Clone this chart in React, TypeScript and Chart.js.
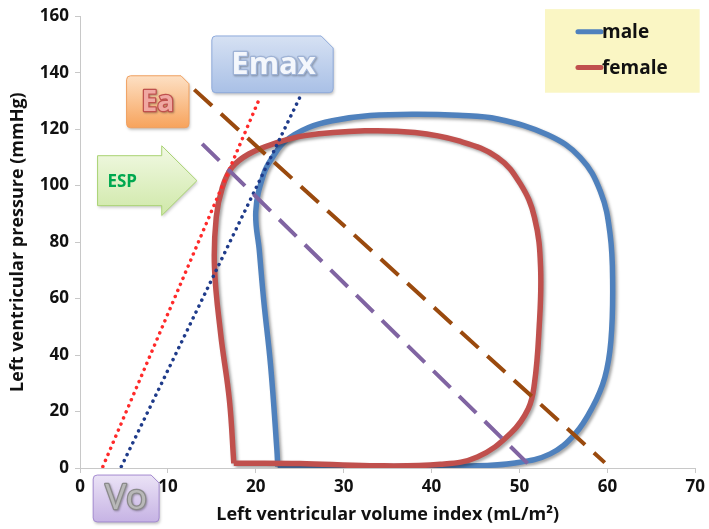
import React, { useEffect, useRef } from "react";
import { Chart, registerables } from "chart.js";

Chart.register(...registerables);

// Male PV loop (volume index mL/m², pressure mmHg)
const maleVolume = [22.5, 22.4, 21.7, 20.9, 20.4, 20.0, 20.9, 21.9, 23.4, 26.0, 28.7, 33.0, 38.1, 43.0, 47.5, 53.2, 56.9, 59.2, 60.3, 60.6, 60.4, 59.7, 58.3, 56.3, 53.5, 49.5, 44.0, 36.0, 28.0, 22.5];
const malePressure = [0.6, 6.4, 35.8, 59.4, 77, 91, 104.1, 110, 115.9, 120.6, 123, 124.8, 125.3, 124.9, 123.6, 118, 110, 98, 83, 65, 45, 32, 21.5, 12, 5, 1.8, 0.7, 0.5, 0.5, 0.6];

// Female PV loop
const femaleVolume = [17.5, 17.0, 16.0, 15.3, 15.5, 16.2, 17.3, 19.2, 21.9, 25.6, 32.4, 38.1, 43.0, 47.5, 50.1, 51.7, 52.4, 52.2, 51.7, 51.0, 49.0, 45.2, 41.0, 33.0, 25.0, 17.5];
const femalePressure = [1.7, 24, 47.6, 71.1, 88.8, 99.4, 106.5, 111.2, 114.7, 117.7, 119.4, 118.8, 115.9, 110, 100.6, 88.8, 71.1, 47.6, 29.9, 21, 12.3, 3.9, 1.3, 0.8, 1.6, 1.7];

// Ea lines (dashed)
const eaMaleVolume = [13.0, 59.7];
const eaMalePressure = [134, 1.9];
const eaFemaleVolume = [13.9, 51.1];
const eaFemalePressure = [114.8, 1.1];

// Emax lines (dotted)
const emaxFemaleVolume = [2.6, 20.4];
const emaxFemalePressure = [0.5, 130.7];
const emaxMaleVolume = [4.7, 25.2];
const emaxMalePressure = [0.5, 132.5];

const xTicks = [0, 10, 20, 30, 40, 50, 60, 70];
const yTicks = [0, 20, 40, 60, 80, 100, 120, 140, 160];
const legendLabels = ["male", "female"];

const pts = (xs: number[], ys: number[]) => xs.map((x, i) => ({ x, y: ys[i] }));

const FONT = "'Open Sans', 'Liberation Sans', sans-serif";

const shadowPlugin = {
  id: "loopShadow",
  beforeDatasetDraw(chart: any, args: any) {
    const ds = chart.data.datasets[args.index];
    if (ds._shadow) {
      const ctx = chart.ctx;
      ctx.save();
      ctx.shadowColor = "rgba(0,0,0,0.35)";
      ctx.shadowBlur = 3;
      ctx.shadowOffsetX = 2;
      ctx.shadowOffsetY = 2;
    }
  },
  afterDatasetDraw(chart: any, args: any) {
    const ds = chart.data.datasets[args.index];
    if (ds._shadow) chart.ctx.restore();
  },
};

function snipRect(ctx: CanvasRenderingContext2D, x0: number, y0: number, x1: number, y1: number, c: number) {
  const r = 4;
  ctx.beginPath();
  ctx.moveTo(x0 + r, y0);
  ctx.lineTo(x1 - c, y0);
  ctx.lineTo(x1, y0 + c);
  ctx.lineTo(x1, y1 - r);
  ctx.quadraticCurveTo(x1, y1, x1 - r, y1);
  ctx.lineTo(x0 + r, y1);
  ctx.quadraticCurveTo(x0, y1, x0, y1 - r);
  ctx.lineTo(x0, y0 + r);
  ctx.quadraticCurveTo(x0, y0, x0 + r, y0);
  ctx.closePath();
}

const annotationPlugin = {
  id: "annotations",
  afterDraw(chart: any) {
    const ctx: CanvasRenderingContext2D = chart.ctx;
    const xs = chart.scales.x;
    const ys = chart.scales.y;
    const px = (v: number) => xs.getPixelForValue(v);
    const py = (v: number) => ys.getPixelForValue(v);

    const box = (x0v: number, x1v: number, y0v: number, y1v: number, c: number, top: string, bottom: string, border: string) => {
      const x0 = px(x0v), x1 = px(x1v), y0 = py(y0v), y1 = py(y1v);
      ctx.save();
      const g = ctx.createLinearGradient(0, y0, 0, y1);
      g.addColorStop(0, top);
      g.addColorStop(1, bottom);
      snipRect(ctx, x0, y0, x1, y1, c);
      ctx.shadowColor = "rgba(0,0,0,0.25)";
      ctx.shadowBlur = 3;
      ctx.shadowOffsetX = 1;
      ctx.shadowOffsetY = 2;
      ctx.fillStyle = g;
      ctx.fill();
      ctx.shadowColor = "transparent";
      ctx.strokeStyle = border;
      ctx.lineWidth = 1;
      ctx.stroke();
      ctx.restore();
      return { cx: (x0 + x1) / 2, cy: (y0 + y1) / 2 };
    };

    const label = (t: string, cx: number, cy: number, size: number, fill: string, stroke: string, weight = "normal") => {
      ctx.save();
      ctx.font = `${weight} ${size}px ${FONT}`;
      ctx.textAlign = "center";
      ctx.textBaseline = "middle";
      ctx.lineJoin = "round";
      ctx.shadowColor = "rgba(0,0,0,0.3)";
      ctx.shadowBlur = 2;
      ctx.shadowOffsetX = 1;
      ctx.shadowOffsetY = 1;
      ctx.strokeStyle = stroke;
      ctx.lineWidth = 2.5;
      ctx.strokeText(t, cx, cy);
      ctx.shadowColor = "transparent";
      ctx.fillStyle = fill;
      ctx.fillText(t, cx, cy);
      ctx.restore();
    };

    // Emax box
    const e = box(15.0, 28.8, 153, 132.9, 12, "#d6e1f3", "#a9c0e6", "#8eaadb");
    label("Emax", e.cx + 1, e.cy + 1, 31, "#f4f7fc", "#9fb3d6", "bold");

    // Ea box
    const a = box(5.3, 12.4, 138.9, 120.5, 8, "#fde0c4", "#f7a35c", "#f0a060");
    label("Ea", a.cx, a.cy + 1, 28, "#f0a8a2", "#c0504d", "bold");

    // ESP arrow
    {
      const x0 = px(2.0), xh = px(9.3), xt = px(13.3);
      const yTop = py(114.1), yBot = py(89.4), sTop = py(110.6), sBot = py(92.9);
      const ym = (yTop + yBot) / 2;
      ctx.save();
      const g = ctx.createLinearGradient(0, yTop, 0, yBot);
      g.addColorStop(0, "#f2f9e4");
      g.addColorStop(1, "#cfe8a8");
      ctx.beginPath();
      ctx.moveTo(x0, sTop);
      ctx.lineTo(xh, sTop);
      ctx.lineTo(xh, yTop);
      ctx.lineTo(xt, ym);
      ctx.lineTo(xh, yBot);
      ctx.lineTo(xh, sBot);
      ctx.lineTo(x0, sBot);
      ctx.closePath();
      ctx.shadowColor = "rgba(0,0,0,0.2)";
      ctx.shadowBlur = 3;
      ctx.shadowOffsetX = 1;
      ctx.shadowOffsetY = 2;
      ctx.fillStyle = g;
      ctx.fill();
      ctx.shadowColor = "transparent";
      ctx.strokeStyle = "#a9d372";
      ctx.lineWidth = 1;
      ctx.stroke();
      ctx.font = `bold 17px ${FONT}`;
      ctx.fillStyle = "#00a84f";
      ctx.textAlign = "center";
      ctx.textBaseline = "middle";
      ctx.fillText("ESP", px(4.8), ym + 1);
      ctx.restore();
    }

    // Vo box
    const v = box(1.5, 9.0, -2.5, -19.1, 8, "#ebe3f6", "#c6b3e4", "#a48bd0");
    label("Vo", v.cx, v.cy + 1, 35, "#b8b8b8", "#8a8a8a");

    // Legend
    {
      const x0 = px(52.9), x1 = px(70.5), y0 = py(162.5), y1 = py(132.9);
      ctx.save();
      ctx.fillStyle = "#faf6c4";
      ctx.fillRect(x0, y0, x1 - x0, y1 - y0);
      const colors = ["#4f81bd", "#c0504d"];
      const rows = [py(154.5), py(141.8)];
      legendLabels.forEach((t, i) => {
        ctx.strokeStyle = colors[i];
        ctx.lineWidth = 5;
        ctx.lineCap = "round";
        ctx.beginPath();
        ctx.moveTo(x0 + 33, rows[i]);
        ctx.lineTo(x0 + 56, rows[i]);
        ctx.stroke();
        ctx.font = `bold 19px ${FONT}`;
        ctx.fillStyle = "#111";
        ctx.textAlign = "left";
        ctx.textBaseline = "middle";
        ctx.fillText(t, x0 + 57, rows[i] + 1);
      });
      ctx.restore();
    }
  },
};

export default function App() {
  const ref = useRef<HTMLCanvasElement | null>(null);

  useEffect(() => {
    if (!ref.current) return;
    const chart = new Chart(ref.current, {
      type: "scatter",
      data: {
        datasets: [
          {
            label: "Ea male",
            data: pts(eaMaleVolume, eaMalePressure),
            showLine: true,
            borderColor: "#9a4a0e",
            borderWidth: 4,
            borderDash: [24, 12],
            pointRadius: 0,
            tension: 0,
          },
          {
            label: "Ea female",
            data: pts(eaFemaleVolume, eaFemalePressure),
            showLine: true,
            borderColor: "#8064a2",
            borderWidth: 4,
            borderDash: [24, 12],
            pointRadius: 0,
            tension: 0,
          },
          {
            label: "Emax female",
            data: pts(emaxFemaleVolume, emaxFemalePressure),
            showLine: true,
            borderColor: "#ff2a2a",
            borderWidth: 3.5,
            borderDash: [0.1, 6.5],
            borderCapStyle: "round",
            pointRadius: 0,
            tension: 0,
          },
          {
            label: "Emax male",
            data: pts(emaxMaleVolume, emaxMalePressure),
            showLine: true,
            borderColor: "#1f3b8a",
            borderWidth: 3.5,
            borderDash: [0.1, 6.5],
            borderCapStyle: "round",
            pointRadius: 0,
            tension: 0,
          },
          {
            label: "female",
            data: pts(femaleVolume, femalePressure),
            showLine: true,
            borderColor: "#c0504d",
            borderWidth: 5.5,
            pointRadius: 0,
            tension: 0.4,
            _shadow: true,
          } as any,
          {
            label: "male",
            data: pts(maleVolume, malePressure),
            showLine: true,
            borderColor: "#4f81bd",
            borderWidth: 5.5,
            pointRadius: 0,
            tension: 0.4,
            _shadow: true,
          } as any,
        ],
      },
      options: {
        responsive: false,
        animation: false,
        events: [],
        layout: { padding: { top: 15, right: 10, left: 0, bottom: 0 } },
        plugins: {
          legend: { display: false },
          tooltip: { enabled: false },
        },
        scales: {
          x: {
            type: "linear",
            min: 0,
            max: 70,
            afterBuildTicks: (s: any) => {
              s.ticks = xTicks.map((value) => ({ value }));
            },
            afterFit: (s: any) => {
              s.height = 61;
            },
            grid: { drawOnChartArea: false, drawTicks: true, tickLength: 5, color: "#c8c8c8" },
            border: { display: true, color: "#c8c8c8", width: 1 },
            ticks: { color: "#111", font: { family: FONT, size: 17, weight: "bold" }, padding: 4, maxRotation: 0 },
            title: {
              display: true,
              text: "Left ventricular volume index (mL/m²)",
              color: "#111",
              font: { family: FONT, size: 18, weight: "bold" },
              padding: { top: 0, bottom: 3 },
            },
          },
          y: {
            type: "linear",
            min: 0,
            max: 160,
            afterBuildTicks: (s: any) => {
              s.ticks = yTicks.map((value) => ({ value }));
            },
            afterFit: (s: any) => {
              s.width = 80;
            },
            grid: { drawOnChartArea: false, drawTicks: true, tickLength: 5, color: "#c8c8c8" },
            border: { display: true, color: "#c8c8c8", width: 1 },
            ticks: { color: "#111", font: { family: FONT, size: 17, weight: "bold" }, padding: 6 },
            title: {
              display: true,
              text: "Left ventricular pressure (mmHg)",
              color: "#111",
              font: { family: FONT, size: 18, weight: "bold" },
              padding: { top: 7, bottom: 0 },
            },
          },
        },
      },
      plugins: [shadowPlugin, annotationPlugin],
    });
    return () => chart.destroy();
  }, []);

  return (
    <div style={{ position: "fixed", left: 0, top: 0, width: 709, height: 529, background: "#fff" }}>
      <canvas ref={ref} width={709} height={529} style={{ display: "block" }} />
    </div>
  );
}
